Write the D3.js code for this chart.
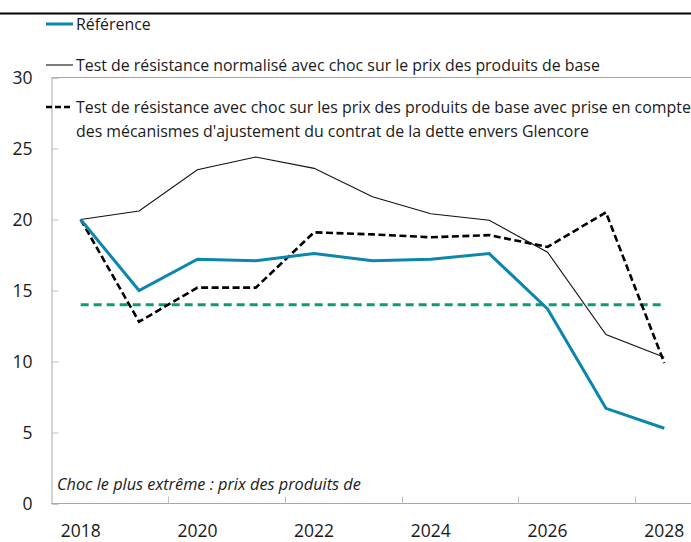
<!DOCTYPE html>
<html><head><meta charset="utf-8">
<script src="https://cdn.jsdelivr.net/npm/d3@7"></script>
<style>
html,body{margin:0;padding:0;background:#fff;}
svg{display:block;font-family:"Open Sans","Noto Sans",sans-serif;}
</style></head>
<body>
<svg id="c" width="691" height="542"></svg>
<script>
const years = [2018,2019,2020,2021,2022,2023,2024,2025,2026,2027,2028];
const reference = [20.0,15.0,17.2,17.1,17.6,17.1,17.2,17.6,13.7,6.7,5.3];
const normalise = [20.0,20.6,23.5,24.4,23.6,21.6,20.4,19.95,17.7,11.9,10.3];
const glencore = [20.0,12.8,15.2,15.2,19.1,18.95,18.75,18.9,18.07,20.5,9.9];
const seuil = [14,14,14,14,14,14,14,14,14,14,14];
const yTicks = [0,5,10,15,20,25,30];
const xLabelYears = [2018,2020,2022,2024,2026,2028];
const xTickYears = [2020,2022,2024,2026,2028];
const legendLabels = [
  ["Référence"],
  ["Test de résistance normalisé avec choc sur le prix des produits de base"],
  ["Test de résistance avec choc sur les prix des produits de base avec prise en compte","des mécanismes d'ajustement du contrat de la dette envers Glencore"]
];
const note = "Choc le plus extrême : prix des produits de";

const svg = d3.select("#c");
const pLeft = 51.5, pTop = 77.5, pBottom = 503.5;
const x = d3.scaleBand().domain(years).range([pLeft, pLeft + 11*58.36]).padding(0);
const y = d3.scaleLinear().domain([0,30]).range([pBottom, pTop]);
const cx = d => x(d) + x.bandwidth()/2;

// top black rule
svg.append("line").attr("x1",0).attr("x2",691).attr("y1",13.5).attr("y2",13.5)
  .attr("stroke","#000").attr("stroke-width",2);

// plot frame top
svg.append("line").attr("x1",pLeft).attr("x2",691).attr("y1",pTop).attr("y2",pTop)
  .attr("stroke","#a6a6a6").attr("stroke-width",1);

// y axis
const ya = svg.append("g").attr("transform",`translate(${pLeft},0)`)
  .call(d3.axisLeft(y).tickValues(yTicks).tickSize(-7).tickPadding(19).tickFormat(d3.format("d")));
ya.select(".domain").attr("stroke","#a6a6a6");
ya.selectAll(".tick line").attr("stroke","#bfbfbf");
ya.selectAll(".tick text").attr("font-size","17.5px").attr("fill","#1a1a1a")
  .attr("font-family","'Open Sans','Noto Sans',sans-serif");

// x axis line
svg.append("line").attr("x1",pLeft).attr("x2",691).attr("y1",pBottom).attr("y2",pBottom)
  .attr("stroke","#a6a6a6").attr("stroke-width",1);
svg.selectAll(".xt").data(xTickYears).enter().append("line")
  .attr("x1",d=>Math.round(x(d))+0.5).attr("x2",d=>Math.round(x(d))+0.5)
  .attr("y1",pBottom).attr("y2",pBottom-7).attr("stroke","#bfbfbf");
svg.selectAll(".xl").data(xLabelYears).enter().append("text")
  .attr("x",d=>cx(d)).attr("y",537).attr("text-anchor","middle")
  .attr("font-size","17.5px").attr("fill","#1a1a1a").text(d=>d);

// note
svg.append("text").attr("x",57).attr("y",490).attr("font-style","italic")
  .attr("font-size","16.3px").attr("fill","#1a1a1a").text(note);

const line = d3.line().x((d,i)=>cx(years[i])).y(d=>y(d));

svg.append("path").datum(seuil).attr("d",line).attr("fill","none")
  .attr("stroke","#109b6c").attr("stroke-width",3).attr("stroke-dasharray","8,5");
svg.append("path").datum(normalise).attr("d",line).attr("fill","none")
  .attr("stroke","#111").attr("stroke-width",1.1);
svg.append("path").datum(glencore).attr("d",line).attr("fill","none")
  .attr("stroke","#000").attr("stroke-width",2.6).attr("stroke-dasharray","7,3.5");
svg.append("path").datum(reference).attr("d",line).attr("fill","none")
  .attr("stroke","#0b86ad").attr("stroke-width",3);

// legend
const leg = [
  {y:24, stroke:"#0b86ad", w:3, dash:null},
  {y:65, stroke:"#111", w:1.1, dash:null},
  {y:107, stroke:"#000", w:2.5, dash:"6,3"}
];
leg.forEach((l,i)=>{
  svg.append("line").attr("x1",46).attr("x2",73).attr("y1",l.y).attr("y2",l.y)
    .attr("stroke",l.stroke).attr("stroke-width",l.w).attr("stroke-dasharray",l.dash);
  legendLabels[i].forEach((t,j)=>{
    svg.append("text").attr("x",76).attr("y",l.y+5.5+j*24).attr("font-size","15.9px")
      .attr("fill","#1a1a1a").text(t);
  });
});
</script>
</body></html>
